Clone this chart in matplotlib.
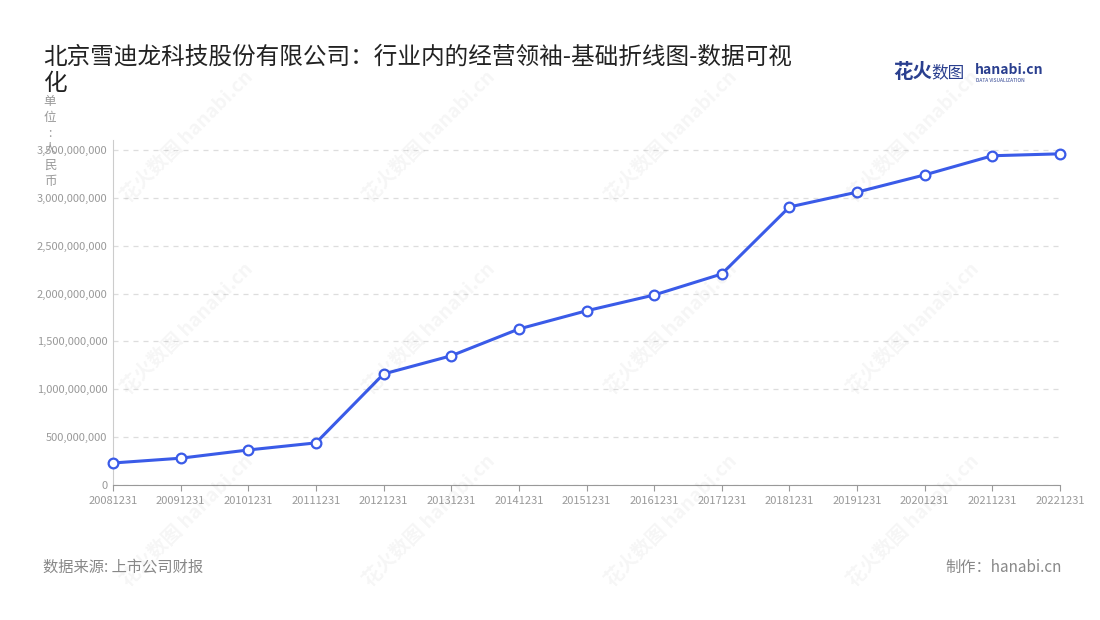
import matplotlib
matplotlib.use("Agg")
import matplotlib.pyplot as plt
from matplotlib.ticker import FuncFormatter

plt.rcParams['font.family'] = ['Noto Sans CJK SC', 'DejaVu Sans']

dates = ["20081231","20091231","20101231","20111231","20121231","20131231","20141231",
         "20151231","20161231","20171231","20181231","20191231","20201231","20211231","20221231"]
values = [0.23e9,0.28e9,0.366e9,0.44e9,1.16e9,1.35e9,1.63e9,1.82e9,1.985e9,2.205e9,
          2.905e9,3.06e9,3.24e9,3.44e9,3.46e9]
yticks = [0,5e8,1e9,1.5e9,2e9,2.5e9,3e9,3.5e9]

fig = plt.figure(figsize=(11,6.2), dpi=100)
ax = fig.add_axes([113/1100, 1-485/620, (1060-113)/1100, (485-140)/620])
x = list(range(len(dates)))
ax.plot(x, values, color='#3a5be8', lw=2.2, marker='o', ms=7,
        mfc='white', mec='#3a5be8', mew=1.6, zorder=3, clip_on=False)
ax.set_xlim(0, len(dates)-1)
ax.set_ylim(0, 3.5e9*345/335)
ax.set_yticks(yticks)
ax.yaxis.set_major_formatter(FuncFormatter(lambda v,p: f"{int(v):,}"))
ax.set_xticks(x)
ax.set_xticklabels(dates)
ax.tick_params(axis='both', labelsize=8, colors='#999999', length=0, pad=4)
ax.tick_params(axis='x', length=4, color='#999999')
for s in ['top','right']:
    ax.spines[s].set_visible(False)
ax.spines['left'].set_color('#cccccc')
ax.spines['bottom'].set_color('#999999')
ax.grid(axis='y', ls=(0,(4,4)), color='#dddddd', lw=0.9)
ax.set_axisbelow(True)

# watermarks
for wx in [0.17, 0.39, 0.61, 0.83]:
    for wy in [0.78, 0.47, 0.16]:
        fig.text(wx, wy, "花火数图 hanabi.cn", rotation=45, fontsize=14, color='#000000',
                 alpha=0.04, ha='center', va='center', fontweight='bold')

fig.text(43/1100, 1-70/620, "北京雪迪龙科技股份有限公司：行业内的经营领袖-基础折线图-数据可视\n化",
         fontsize=17, color='#222222', va='center', linespacing=1.2)
fig.text(50/1100, 1-95/620, "单\n位\n:\n人\n民\n币", fontsize=9, color='#999999',
         ha='center', va='top', linespacing=1.3)
fig.text(893/1100, 1-73/620, "花火", fontsize=14, color='#2a3f8f', fontweight='bold', va='center')
fig.text(931/1100, 1-73/620, "数图", fontsize=12, color='#2a3f8f', va='center')
fig.text(975/1100, 1-70/620, "hanabi.cn", fontsize=10, color='#2a3f8f', fontweight='bold', va='center')
fig.text(976/1100, 1-81/620, "DATA VISUALIZATION", fontsize=3.5, color='#2a3f8f', va='center')
fig.text(43/1100, 1-567/620, "数据来源: 上市公司财报", fontsize=11, color='#888888', va='center')
fig.text(1062/1100, 1-567/620, "制作：hanabi.cn", fontsize=11, color='#888888', va='center', ha='right')
fig.savefig("out.png", dpi=100)
